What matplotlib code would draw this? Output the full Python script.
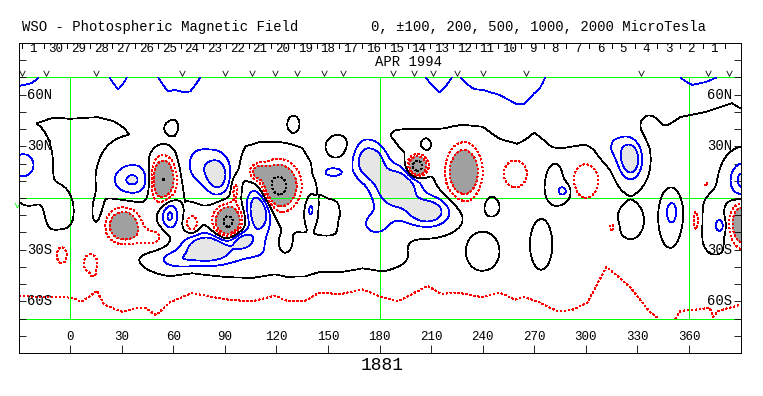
import numpy as np
import matplotlib
matplotlib.use('Agg')
import matplotlib.pyplot as plt
from matplotlib.path import Path

plt.rcParams['font.family'] = ['Liberation Mono', 'DejaVu Sans Mono']

# ---- text ----
title_left = 'WSO - Photospheric Magnetic Field'
title_right = '0, \u00b1100, 200, 500, 1000, 2000 MicroTesla'
rotation = '1881'
month_label = 'APR 1994'

lon_ticks = [0, 30, 60, 90, 120, 150, 180, 210, 240, 270, 300, 330, 360]
lat_label_pos = [60, 30, -30, -60]
lat_label_txt = ['60N', '30N', '30S', '60S']

# days of the month along the top (time runs right to left)
day_labels = ['1', '30', '29', '28', '27', '26', '25', '24', '23', '22', '21',
              '20', '19', '18', '17', '16', '15', '14', '13', '12', '11',
              '10', '9', '8', '7', '6', '5', '4', '3', '2', '1']
first_day_tick = -28.1
deg_per_day = 13.2

# longitudes of the little "v" observation marks
obs_lon = [-28, -14, 15, 65, 90, 106, 119, 132, 148, 159, 188, 200, 211,
           225, 240, 265, 332, 371, 383]

# ---- field model (microTesla) ----
band_level = -12

# north polar cap: latitude of the zero line, and value at 70N
north_edge_lon = [-30, -10, 0, 16, 25, 35, 45, 55, 61, 64, 67, 92, 97, 102,
                  110, 120, 130, 135, 140, 144, 150, 162, 168, 175, 184, 195,
                  210, 225, 240, 250, 260, 270, 280, 295, 310, 325, 340, 355,
                  370, 385, 390]
north_edge_lat = [45, 47, 46, 47, 45, 40, 31, 26, 23, 8, 0, 0, 20, 30,
                  32, 31, 29, 28, 18, 2, 0, 0, 4, 30, 40, 40,
                  40, 40, 41, 34, 29, 38, 30, 28, 35, 38, 37, 47,
                  50, 55, 52]
north_top_lon = [-30, -22, -15, 18, 23, 28, 33, 40, 50, 57, 64, 70, 78, 85, 200,
                 207, 215, 222, 227, 235, 250, 264, 272, 277, 290, 350, 355,
                 362, 370, 376, 380, 390]
north_top_val = [125, 115, 85, 85, 100, 135, 100, 85, 95, 122, 115, 113, 95, 85, 85,
                 100, 140, 100, 100, 130, 140, 170, 130, 95, 85, 85, 100,
                 125, 115, 100, 85, 85]

# south polar cap: latitude of the -100 contour
south_edge_lon = [-30, -11, 2, 6, 16, 20, 30, 38, 44, 50, 58, 71, 81, 92, 106,
                  119, 126, 137, 145, 157, 170, 180, 191, 208, 216, 225, 239,
                  250, 259, 264, 273, 284, 292, 301, 312, 318, 326, 337, 345,
                  352, 355, 366, 372, 374, 377, 390]
south_edge_lat = [-57, -57.5, -58, -60.6, -56, -62, -66, -64, -64, -68, -60.6,
                  -55, -57, -59, -60, -56.6, -59.6, -59.6, -54.8, -55.8, -53,
                  -57, -60, -51, -55.8, -54.8, -57.5, -55, -59, -57.5, -60.6,
                  -66, -65, -60.6, -40, -45, -52, -66, -72, -70, -65.5,
                  -64.6, -63.7, -69, -65.5, -62]

# active regions: centre lon, centre lat, peak, width lon, width lat
blob_lon = [54, 121, 110, 92, 31, 47, 12, -5, 125, 71, 202, 229, 259, 300,
            315, 364, 392, 377, 370, 96,
            80, 62, 110, 95, 100, 175, 190, 208, 178, 150, 326, 317, 36, 86,
            76, -28, 153, 58, 140, 350, 349, 378, 376, 392, 287,
            274, 326, 240, 245, 60, 130, 207, 337, 156, -6, 17, 283, -24, 38]
blob_lat = [11, 7, 15, -14, -16, -23, -38, -33, -28, -15, 18.5, 15, 14, 10,
            -17, -13, -15, -40, 8, 5,
            -29, -36, -6, -32, -24, 21, 6, -8, -15, -35, 22, 30, 10, 13,
            18, 19, 15, -10, -7, -8, -12, -16, -15, 10, 4,
            -27, -13, -31, -4, 42, 44, 31, 43, 31, -8, -10, 8, 20, 20]
blob_amp = [-520, -620, -300, -580, -450, -140, -110, -110, -110, -200, -750,
            -470, -150, -185, -110, -120, -500, -90, -110, -130,
            320, 130, 380, 100, 220, 320, 380, 320, 130, 60, 330, 110, 200,
            260, 120, 150, 125, 240, 130, 135, 50, 130, 50, 260, 125,
            45, 40, 45, 30, -70, -60, 35, -45, -70, 45, 35, 40, 55, 50]
blob_wlon = [4.5, 7, 3.5, 5, 6, 7, 6, 4, 3, 2.5, 3.3, 6, 6.5, 6,
             1.8, 1.6, 5, 3, 1, 1.8,
             9, 8, 5, 26, 5, 6.5, 9, 9, 10, 25, 4.5, 7, 8, 5,
             6, 5, 5, 3.5, 2, 2.5, 4, 2, 6, 6, 3,
             4, 5, 6, 4, 5, 3, 2, 4, 6.5, 5, 3, 5, 8, 12]
blob_wlat = [8, 8, 3, 6, 6, 4, 8, 7, 4, 3.5, 3.5, 9.5, 7.5, 8,
             2.5, 7, 8, 2.5, 1.2, 5,
             5.5, 3.5, 10, 8, 4, 8, 8, 6, 8, 6, 7.5, 7, 6, 8,
             8, 5, 2.5, 6, 5, 5, 10, 3, 11, 8, 3,
             9, 7, 7, 5, 5, 4, 2.5, 5, 6, 9, 8, 8, 14, 10]

# ---- build the map ----
lon = np.arange(-29.5, 390.01, 0.5)
lat = np.arange(-70, 70.01, 0.5)
LON, LAT = np.meshgrid(lon, lat)

edge_n = np.interp(LON, north_edge_lon, north_edge_lat)
top_n = np.interp(LON, north_top_lon, north_top_val)
field = np.maximum(top_n * (LAT - edge_n) / (70 - edge_n), band_level)
edge_s = np.interp(LON, south_edge_lon, south_edge_lat)
south = band_level - (100 + band_level) * (edge_s + 15 - LAT) / 15
field = np.where(LAT < edge_s + 15, np.maximum(south, -180), field)
for x0, y0, a, sx, sy in zip(blob_lon, blob_lat, blob_amp, blob_wlon, blob_wlat):
    field = field + a * np.exp(-0.5 * (((LON - x0) / sx) ** 2 + ((LAT - y0) / sy) ** 2))

fig = plt.figure(figsize=(7.63, 3.96), dpi=100)
ax = fig.add_axes([19.3 / 763, 1 - 353 / 396, 721.3 / 763, 310 / 396])
ax.set_xlim(-29.5, 390)
ax.set_ylim(-90, 90)

lw = 0.5
dots = (0, (2, 3.5))
ax.contourf(lon, lat, field, levels=[-1e5, -200], colors=['#a0a0a0'], antialiased=False)
ax.contourf(lon, lat, field, levels=[200, 1e5], colors=['#e6e6e6'], antialiased=False)
ax.contour(lon, lat, field, levels=[-200, -100], colors='red', linewidths=lw,
           linestyles=[dots], antialiased=False)
ax.contour(lon, lat, field, levels=[100, 200], colors='blue', linewidths=lw,
           antialiased=False)
ax.contour(lon, lat, field, levels=[0], colors='black', linewidths=lw,
           antialiased=False)
ax.contour(lon, lat, field, levels=[-2000, -1000, -500], colors='black',
           linewidths=lw, linestyles=[dots], antialiased=False)
ax.contour(lon, lat, field, levels=[500, 1000, 2000], colors='black',
           linewidths=lw, antialiased=False)

# green reference grid
green = '#00ff00'
for y in [70, 0, -70]:
    ax.axhline(y, color=green, lw=0.6, antialiased=False, zorder=1)
ax.vlines([0, 180, 360], -70, 70, colors=green, lw=0.6, antialiased=False, zorder=1)

# frame and ticks
for sp in ax.spines.values():
    sp.set_linewidth(0.7)
ax.set_yticks(np.arange(-80, 81, 10))
ax.set_xticks(lon_ticks)
ax.tick_params(axis='y', direction='in', length=5, width=0.6, left=True, right=True,
               labelleft=False, labelright=False)
ax.tick_params(axis='x', direction='in', length=5.5, width=0.6, bottom=True, top=False,
               labelbottom=False)

for l in lon_ticks:
    ax.text(l, -81, str(l), ha='center', va='center', fontsize=9)

for p, t in zip(lat_label_pos, lat_label_txt):
    ax.annotate(t, xy=(0, p), xycoords=('axes fraction', 'data'), xytext=(5.3, 0),
                textcoords='offset points', ha='left', va='center', fontsize=10)
    ax.annotate(t, xy=(1, p), xycoords=('axes fraction', 'data'), xytext=(-6.3, 0),
                textcoords='offset points', ha='right', va='center', fontsize=10)

# date row on top
day_ticks = [first_day_tick + k * deg_per_day for k in range(len(day_labels) + 1)]
ax.vlines(day_ticks, 87, 90, colors='black', lw=0.6, antialiased=False)
for k, d in enumerate(day_labels):
    ax.text(first_day_tick + (k + 0.5) * deg_per_day, 86.3, d, ha='center',
            va='center', fontsize=9)
ax.text(196.6, 78.8, month_label, ha='center', va='center', fontsize=10)

# observation marks drawn as open "v" glyphs
vee = Path([(-1, 1), (0, -1), (1, 1)], [Path.MOVETO, Path.LINETO, Path.LINETO])
ax.plot(obs_lon, [72.3] * len(obs_lon), linestyle='none', marker=vee, markersize=4,
        markerfacecolor='none', markeredgecolor='black', markeredgewidth=0.6,
        clip_on=False)
ax.plot([-31], [-4], linestyle='none', marker=vee, markersize=3.5, color=green,
        markerfacecolor='none', markeredgewidth=0.6, clip_on=False)

fig.text(22 / 763, 1 - 27.5 / 396, title_left, ha='left', va='center', fontsize=10)
fig.text(371 / 763, 1 - 27.5 / 396, title_right, ha='left', va='center', fontsize=10)
fig.text(382 / 763, 1 - 366 / 396, rotation, ha='center', va='center', fontsize=13)

fig.savefig('out.png', dpi=100)
